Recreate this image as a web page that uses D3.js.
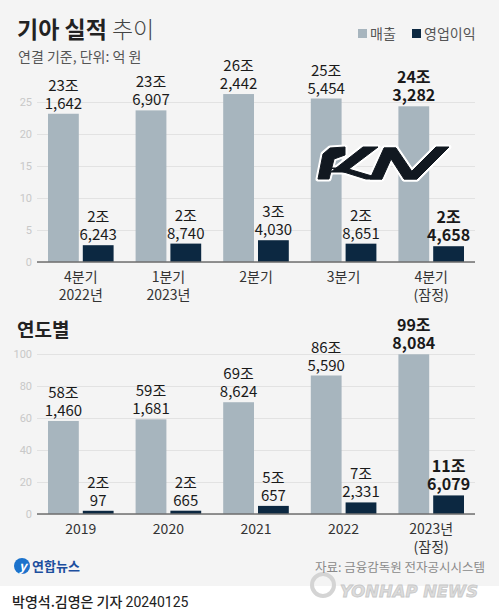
<!DOCTYPE html>
<html>
<head>
<meta charset="utf-8">
<script src="https://cdn.jsdelivr.net/npm/d3@7"></script>
<style>
  body { margin: 0; background: #fff; }
  svg { display: block; font-family: "Noto Sans CJK KR", "Noto Sans", sans-serif; }
</style>
</head>
<body>
<script>
// data (억 원)
let quarters = [["4분기", "2022년"], ["1분기", "2023년"], ["2분기"], ["3분기"], ["4분기", "(잠정)"]]
let qSales = [231642, 236907, 262442, 255454, 243282]
let qProfit = [26243, 28740, 34030, 28651, 24658]
let qTicks = [0, 5, 10, 15, 20, 25]

let years = [["2019"], ["2020"], ["2021"], ["2022"], ["2023년", "(잠정)"]]
let ySales = [581460, 591681, 698624, 865590, 998084]
let yProfit = [20097, 20665, 50657, 72331, 116079]
let yTicks = [0, 20, 40, 60, 80, 100]

let W = 499, H = 616
let gray = "#a7b5be", navy = "#0c2841"

let svg = d3.select("body").append("svg").attr("width", W).attr("height", H)
svg.append("rect").attr("width", W).attr("height", H).attr("fill", "#f4f4f4")
svg.append("rect").attr("y", 586).attr("width", W).attr("height", H - 586).attr("fill", "#fff")

// title
let t = svg.append("text").attr("x", 17).attr("y", 38).attr("fill", "#222")
t.append("tspan").attr("font-size", 23).attr("font-weight", 700).text("기아 실적")
t.append("tspan").attr("font-size", 23).attr("font-weight", 300).attr("fill", "#444").text(" 추이")
svg.append("text").attr("x", 18).attr("y", 62).attr("font-size", 14).attr("fill", "#555").text("연결 기준, 단위: 억 원")

// legend
let legend = [["매출", gray, 358], ["영업이익", navy, 412]]
legend.forEach(l => {
  svg.append("rect").attr("x", l[2]).attr("y", 29).attr("width", 9).attr("height", 9).attr("fill", l[1])
  svg.append("text").attr("x", l[2] + 12).attr("y", 38.5).attr("font-size", 14).attr("fill", "#555").text(l[0])
})

function fmt(v) {
  let jo = Math.floor(v / 10000), rest = v % 10000
  return [jo + "조", d3.format(",")(rest)]
}

function drawChart(opt) {
  let g = svg.append("g")
  let y = d3.scaleLinear().domain([0, opt.max]).range([opt.y0, opt.y1])
  let x0 = d3.scaleBand().domain(d3.range(opt.labels.length)).range([37, 475])
  let x1 = d3.scaleBand().domain(["s", "p"]).range([11, x0.bandwidth() - 11]).paddingInner(0.115)

  let ax = g.append("g").attr("transform", "translate(37,0)")
    .call(d3.axisLeft(y).tickValues(opt.ticks).tickSize(-438).tickPadding(5))
  ax.select(".domain").remove()
  ax.selectAll("line").attr("stroke", "#e2e2e2")
  ax.selectAll("text").attr("fill", "#c8c8c8").attr("font-size", 11).attr("font-family", "Roboto, sans-serif")

  let rows = []
  opt.labels.forEach((lab, i) => {
    rows.push({ i: i, k: "s", v: opt.sales[i] })
    rows.push({ i: i, k: "p", v: opt.profit[i] })
  })
  g.selectAll(".bar").data(rows).join("rect")
    .attr("x", d => x0(d.i) + x1(d.k))
    .attr("width", x1.bandwidth())
    .attr("y", d => y(d.v / 10000))
    .attr("height", d => opt.y0 - y(d.v / 10000))
    .attr("fill", d => d.k == "s" ? gray : navy)

  g.append("line").attr("x1", 37).attr("x2", 475).attr("y1", opt.y0).attr("y2", opt.y0)
    .attr("stroke", "#6f6f6f").attr("stroke-width", 1.5)

  rows.forEach(d => {
    let last = d.i == opt.labels.length - 1
    let cx = x0(d.i) + x1(d.k) + x1.bandwidth() / 2
    let top = y(d.v / 10000)
    fmt(d.v).forEach((s, j) => {
      g.append("text").attr("x", cx).attr("y", top - 23 + j * 18).attr("text-anchor", "middle").attr("fill", "#1a1a1a")
        .attr("font-size", last ? 16 : 15).attr("font-weight", last ? 700 : 400).text(s)
    })
  })

  opt.labels.forEach((lab, i) => {
    let cx = x0(i) + x0.bandwidth() / 2
    lab.forEach((line, j) => {
      g.append("text").attr("x", cx).attr("y", opt.y0 + 20 + j * 17.5).attr("text-anchor", "middle")
        .attr("font-size", 14).attr("fill", "#333").text(line)
    })
  })
}

drawChart({ labels: quarters, sales: qSales, profit: qProfit, ticks: qTicks, max: 25, y0: 262, y1: 102 })

svg.append("text").attr("x", 17).attr("y", 337).attr("font-size", 19).attr("font-weight", 700).attr("fill", "#222").text("연도별")
drawChart({ labels: years, sales: ySales, profit: yProfit, ticks: yTicks, max: 100, y0: 514, y1: 354 })

// Kia logo
let kia = svg.append("g").attr("transform", "translate(318,147)")
let kiaParts = [
  [[0, 32], [11, 32], [16, 12], [27, 8], [27, 0], [12, 1], [5, 7]],
  [[45, 0], [60, 0], [27, 25], [13, 25]],
  [[13, 21], [27, 21], [64, 32], [48, 32]],
  [[52, 32], [64, 32], [78, 1], [66, 1]],
  [[66, 1], [78, 1], [99, 32], [86, 32]],
  [[86, 32], [99, 32], [131, 0], [118, 0]]
]
kia.selectAll("path.o").data(kiaParts).join("path")
  .attr("d", d => "M" + d.join("L") + "Z").attr("fill", "#fff").attr("stroke", "#fff").attr("stroke-width", 5).attr("stroke-linejoin", "round")
kia.selectAll("path.f").data(kiaParts).join("path").attr("class", "f")
  .attr("d", d => "M" + d.join("L") + "Z").attr("fill", "#111820").attr("stroke", "#111820").attr("stroke-width", 1).attr("stroke-linejoin", "round")

// footer
svg.append("circle").attr("cx", 22).attr("cy", 566).attr("r", 8).attr("fill", "#1b72cc")
svg.append("text").attr("x", 19).attr("y", 571).attr("font-size", 13).attr("font-style", "italic").attr("font-weight", 700)
  .attr("fill", "#fff").text("y")
svg.append("text").attr("x", 32).attr("y", 571).attr("font-size", 13).attr("font-weight", 700).attr("fill", "#1d4f9e").text("연합뉴스")

svg.append("circle").attr("cx", 323).attr("cy", 585).attr("r", 11).attr("fill", "none").attr("stroke", "#d4d4d4").attr("stroke-width", 4)
svg.append("text").attr("x", 340).attr("y", 597).attr("font-size", 16).attr("font-weight", 900).attr("font-style", "italic")
  .attr("font-family", "'DejaVu Sans', sans-serif").attr("fill", "#dcdcdc").attr("stroke", "#c8c8c8").attr("stroke-width", 0.8)
  .attr("textLength", 138).attr("lengthAdjust", "spacingAndGlyphs").text("YONHAP NEWS")
svg.append("text").attr("x", 485).attr("y", 572).attr("text-anchor", "end").attr("font-size", 12.5).attr("fill", "#8a8a8a")
  .text("자료: 금융감독원 전자공시시스템")

let by = svg.append("text").attr("x", 12).attr("y", 607).attr("font-size", 14).attr("fill", "#222")
by.append("tspan").attr("font-weight", 500).text("박영석.김영은 기자 ")
by.append("tspan").attr("font-weight", 400).attr("font-family", "Roboto, sans-serif").text("20240125")
</script>
</body>
</html>
